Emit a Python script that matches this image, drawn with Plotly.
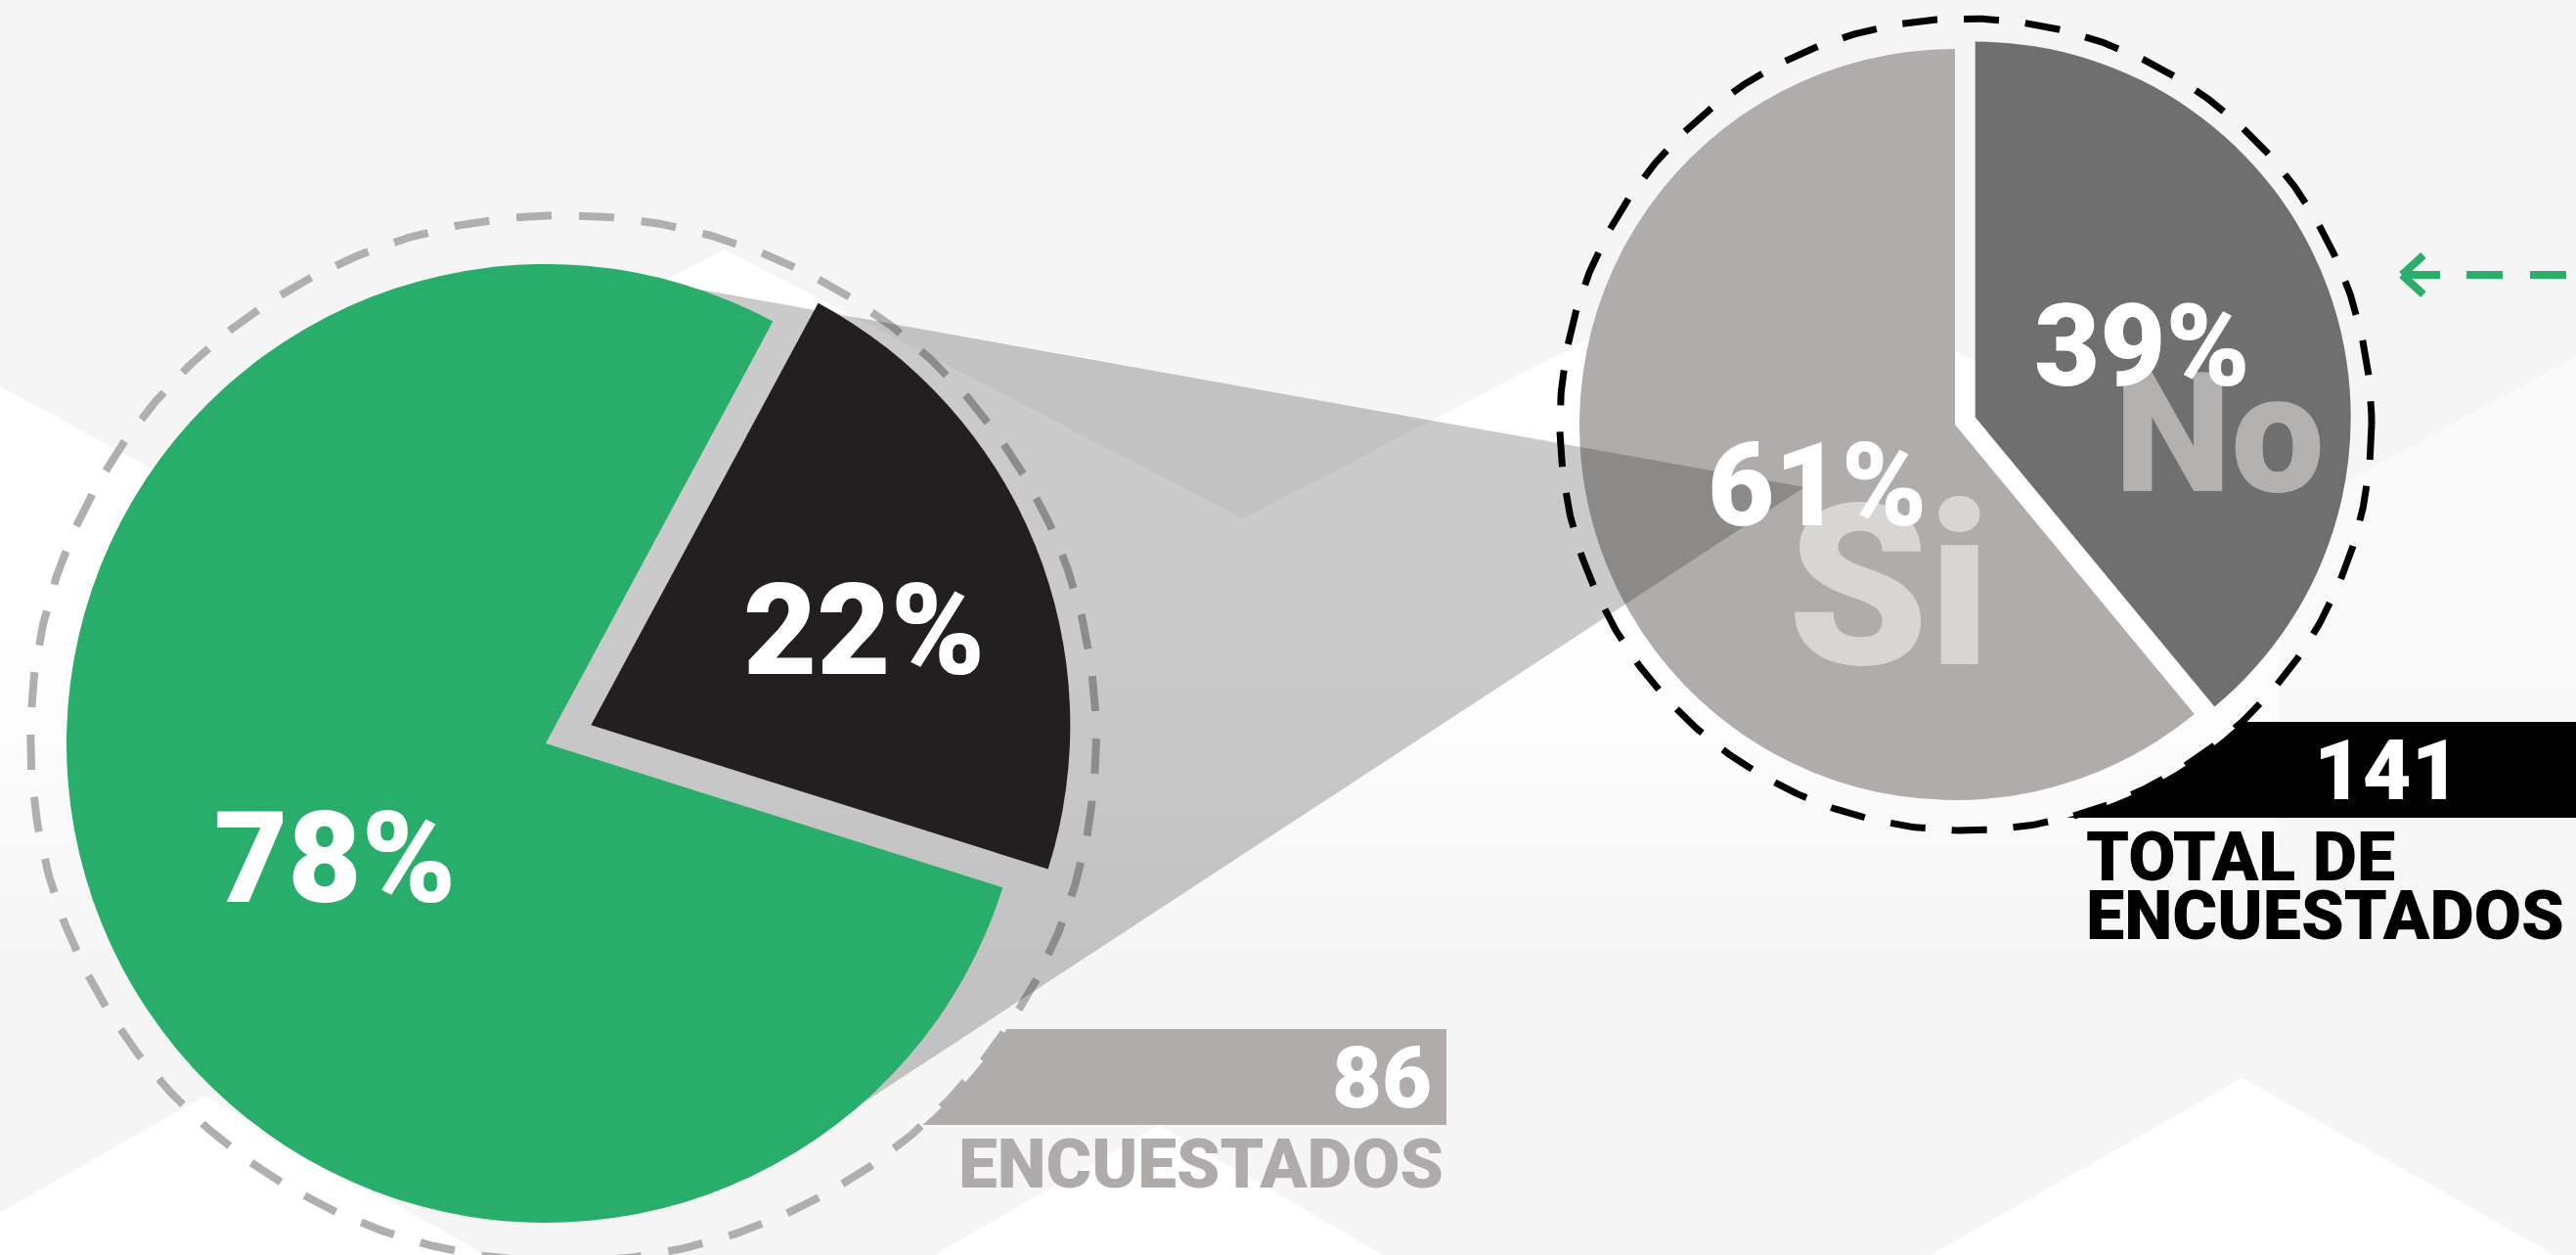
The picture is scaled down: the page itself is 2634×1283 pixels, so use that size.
import numpy as np
import plotly.graph_objects as go

W, H = 2634, 1283

# ---------------- data ----------------
left_labels = ["Grupo destacado", "Resto"]
left_values = [22, 78]
right_labels = ["No", "Si"]
right_values = [39, 61]
left_total = 86
right_total = 141
left_caption = "ENCUESTADOS"
right_caption = ["TOTAL DE", "ENCUESTADOS"]

# ---------------- colours ----------------
GREEN = "#29ad6a"
DARK = "#231f20"
SI_C = "#afacab"
NO_C = "#706f6f"
CLEAR = "rgba(0,0,0,0)"

# ---------------- geometry ----------------
L_CX, L_CY, L_R = 558, 760, 490
L_ROT = 28.3
L_PULL = 50
R_CX, R_CY, R_R = 1999, 434, 384
R_ROT = 0
R_PULL = 22


def dom(cx, cy, r):
    return dict(x=[(cx - r) / W, (cx + r) / W], y=[1 - (cy + r) / H, 1 - (cy - r) / H])


def pulled(cx, cy, rot, share, dist):
    a = np.radians(rot + 360 * share / 2)
    return cx + dist * np.sin(a), cy - dist * np.cos(a)


fig = go.Figure()


def white_fade(alpha):
    return dict(type="vertical", start=255, stop=1000,
                colorscale=[[0, f"rgba(255,255,255,{alpha})"], [0.53, f"rgba(255,255,255,{alpha})"],
                            [1, "rgba(255,255,255,0)"]])


# ---------------- background (cartesian, pixel units) ----------------
zig_x = [0, 230, 741, 1271, 1800, 2330, 2330, 0]
zig_y = [395, 520, 255, 530, 255, 530, 1283, 1283]
fig.add_trace(go.Scatter(x=zig_x, y=zig_y, mode="none", fill="toself",
                         fillgradient=white_fade(1), hoverinfo="skip", showlegend=False))
fig.add_trace(go.Scatter(x=[2330, 2634, 2634, 2330], y=[530, 364, 1283, 1283], mode="none",
                         fill="toself", fillgradient=white_fade(0.45),
                         hoverinfo="skip", showlegend=False))

for px, py, s in [(210, 1120, 0.57), (1185, 1150, 0.58), (2293, 1102, 0.567)]:
    hw = (H - py) / s
    fig.add_trace(go.Scatter(
        x=[px - hw, px, px + hw, px - hw], y=[H, py, H, H], mode="none", fill="toself",
        fillcolor="rgba(255,255,255,0.95)", hoverinfo="skip", showlegend=False))

# left dashed ellipse
LD_CX, LD_CY, LD_RX, LD_RY = 576, 755, 545, 535
th = np.linspace(0, 2 * np.pi, 720)
fig.add_trace(go.Scatter(
    x=LD_CX + LD_RX * np.cos(th), y=LD_CY + LD_RY * np.sin(th), mode="lines",
    line=dict(color="#afafaf", width=8, dash="36px,28px"), hoverinfo="skip", showlegend=False))

# connecting translucent polygon
A = np.array([688.0, 291.0])
T = np.array([1845.0, 498.0])
B = np.array([862.0, 1141.0])
POLY_FILL = "rgba(28,28,28,0.23)"
fig.add_trace(go.Scatter(
    x=[L_CX, A[0], T[0], B[0], L_CX], y=[L_CY, A[1], T[1], B[1], L_CY], mode="none",
    fill="toself", fillcolor=POLY_FILL, hoverinfo="skip", showlegend=False))

# right dashed circle
RD_CX, RD_CY, RD_R = 2010, 434, 415
fig.add_trace(go.Scatter(
    x=RD_CX + RD_R * np.cos(th), y=RD_CY + RD_R * np.sin(th), mode="lines",
    line=dict(color="#000000", width=7, dash="36px,27px"), hoverinfo="skip", showlegend=False))

# ---------------- pies ----------------
share_dark = left_values[0] / sum(left_values)
dcx, dcy = pulled(L_CX, L_CY, L_ROT, share_dark, L_PULL)
common = dict(sort=False, direction="clockwise", textinfo="none", hoverinfo="skip",
              showlegend=False, marker_line_width=0)
fig.add_trace(go.Pie(labels=left_labels, values=left_values, rotation=L_ROT,
                     marker_colors=[CLEAR, GREEN], domain=dom(L_CX, L_CY, L_R), **common))
fig.add_trace(go.Pie(labels=left_labels, values=left_values, rotation=L_ROT,
                     marker_colors=[DARK, CLEAR], domain=dom(dcx, dcy, L_R), **common))

share_no = right_values[0] / sum(right_values)
ncx, ncy = pulled(R_CX, R_CY, R_ROT, share_no, R_PULL)
fig.add_trace(go.Pie(labels=right_labels, values=right_values, rotation=R_ROT,
                     marker_colors=[CLEAR, SI_C], domain=dom(R_CX, R_CY, R_R), **common))
fig.add_trace(go.Pie(labels=right_labels, values=right_values, rotation=R_ROT,
                     marker_colors=[NO_C, CLEAR], domain=dom(ncx, ncy, R_R), **common))

# ---------------- shapes above ----------------
shapes = []


def circle_hit(p0, p1, c, r):
    d = p1 - p0
    f = p0 - c
    a = d @ d
    b = 2 * f @ d
    cc = f @ f - r * r
    t = (-b + np.sqrt(b * b - 4 * a * cc)) / (2 * a)
    return p0 + t * d


C = np.array([R_CX, R_CY], float)
pu = circle_hit(T, A, C, R_R)
pl = circle_hit(T, B, C, R_R)
au = np.arctan2(pu[1] - C[1], pu[0] - C[0]) % (2 * np.pi)
al = np.arctan2(pl[1] - C[1], pl[0] - C[0]) % (2 * np.pi)
arc = np.linspace(al, au, 40)
pts = [pu, T, pl] + [C + R_R * np.array([np.cos(t), np.sin(t)]) for t in arc]
path = "M " + " L ".join(f"{p[0]:.1f},{p[1]:.1f}" for p in pts) + " Z"
shapes.append(dict(type="path", path=path, xref="x", yref="y", fillcolor=POLY_FILL,
                   line_width=0, layer="above"))


def bar_path(y0, y1, xr, cx, cy, rx, ry):
    ys = np.linspace(y0, y1, 30)
    xs = cx + rx * np.sqrt(np.clip(1 - ((ys - cy) / ry) ** 2, 0, 1))
    pts = [(xs[0], y0), (xr, y0), (xr, y1)] + list(zip(xs[::-1], ys[::-1]))
    return "M " + " L ".join(f"{x:.1f},{y:.1f}" for x, y in pts) + " Z"


shapes.append(dict(type="path", path=bar_path(1052, 1150, 1479, LD_CX, LD_CY, LD_RX, LD_RY),
                   xref="x", yref="y", fillcolor=SI_C, line_width=0, layer="above"))
shapes.append(dict(type="path", path=bar_path(738, 836, W + 5, RD_CX, RD_CY, RD_R, RD_R),
                   xref="x", yref="y", fillcolor="#000000", line_width=0, layer="above"))

ARROW = "#2bae6b"
for x0, y0, x1, y1 in [(2456, 281, 2495, 281), (2522, 281, 2559, 281), (2587, 281, 2624, 281),
                       (2456, 281, 2478, 261), (2456, 281, 2478, 301)]:
    shapes.append(dict(type="line", x0=x0, y0=y0, x1=x1, y1=y1, xref="x", yref="y",
                       line=dict(color=ARROW, width=8), layer="above"))

# ---------------- text ----------------
FONT = "Roboto"


def ann(text, x, y, size, color, xanchor="center", weight=900):
    return dict(text=text, x=x, y=y, xref="x", yref="y", xanchor=xanchor, yanchor="middle",
                showarrow=False, font=dict(family=FONT, size=size, color=color, weight=weight))


annotations = [
    ann(f"{left_values[1]}%", 342, 877, 130, "white"),
    ann(f"{left_values[0]}%", 883, 644, 130, "white"),
    ann(right_labels[0], 2269, 444, 170, "#b3b1b0"),
    ann(right_labels[1], 1931, 600, 230, "#d7d6d5"),
    ann(f"{right_values[0]}%", 2190, 354, 116, "white"),
    ann(f"{right_values[1]}%", 1858, 497, 118, "white"),
    ann(str(left_total), 1466, 1101, 88, "white", xanchor="right"),
    ann(left_caption, 1478, 1189, 71, "#aeabaa", xanchor="right"),
    ann(str(right_total), 2441, 787, 86, "white"),
    ann(right_caption[0], 2131, 876, 70, "black", xanchor="left"),
    ann(right_caption[1], 2131, 936, 70, "black", xanchor="left"),
]

fig.update_layout(
    width=W, height=H, margin=dict(l=0, r=0, t=0, b=0),
    paper_bgcolor="#f5f5f5", plot_bgcolor="rgba(0,0,0,0)",
    xaxis=dict(range=[0, W], visible=False, fixedrange=True),
    yaxis=dict(range=[H, 0], visible=False, fixedrange=True),
    shapes=shapes, annotations=annotations, showlegend=False,
)

fig.write_html("out.html", config={"displayModeBar": False},
               post_script="document.body.style.margin='0';document.body.style.overflow='hidden';")
